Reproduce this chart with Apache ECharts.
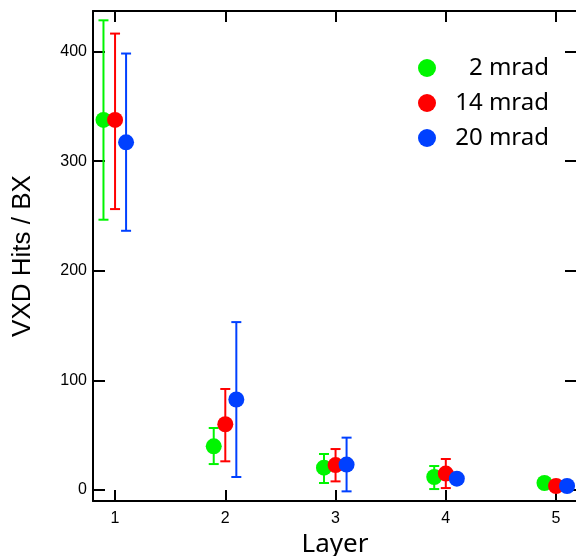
<!DOCTYPE html>
<html>
<head>
<meta charset="utf-8">
<script src="https://cdn.jsdelivr.net/npm/echarts@6/dist/echarts.min.js"></script>
<style>html,body{margin:0;padding:0;background:#fff}#c{width:576px;height:556px}</style>
</head>
<body>
<div id="c"></div>
<script>
const layers = [1, 2, 3, 4, 5];
const seriesNames = ['2 mrad', '14 mrad', '20 mrad'];
const hits2 = [337.6, 39.9, 20.4, 11.9, 6.4];
const lo2 = [246.6, 23.7, 6.4, 0.9, 4.0];
const hi2 = [428.5, 56.6, 32.9, 21.9, 9.0];
const hits14 = [337.6, 60.0, 22.8, 15.0, 3.7];
const lo14 = [256.3, 26.2, 7.9, 1.8, 1.5];
const hi14 = [416.4, 92.2, 37.4, 28.3, 6.0];
const hits20 = [317.2, 82.6, 23.2, 10.4, 3.7];
const lo20 = [236.5, 11.9, -1.2, 7.0, 1.5];
const hi20 = [398.2, 153.2, 47.8, 14.0, 6.0];
const yTicks = [0, 100, 200, 300, 400];

const colors = ['#00f500', '#ff0000', '#0040ff'];
const offsets = [-0.105, 0, 0.1];
const allHits = [hits2, hits14, hits20];
const allLo = [lo2, lo14, lo20];
const allHi = [hi2, hi14, hi20];

const chart = echarts.init(document.getElementById('c'));
const axisLine = {show: true, onZero: false, lineStyle: {color: '#000', width: 2}};
const labelFont = {fontFamily: 'Liberation Sans', fontSize: 16, color: '#000'};

function errRender(color) {
  return function (params, api) {
    const x = api.value(0);
    const p1 = api.coord([x, api.value(1)]);
    const p2 = api.coord([x, api.value(2)]);
    const s = {stroke: color, lineWidth: 2};
    return {type: 'group', children: [
      {type: 'line', shape: {x1: p1[0], y1: p1[1], x2: p2[0], y2: p2[1]}, style: s},
      {type: 'line', shape: {x1: p1[0] - 5, y1: p1[1], x2: p1[0] + 5, y2: p1[1]}, style: s},
      {type: 'line', shape: {x1: p2[0] - 5, y1: p2[1], x2: p2[0] + 5, y2: p2[1]}, style: s}
    ]};
  };
}

const series = [];
[0, 1, 2].forEach(i => {
  series.push({
    type: 'custom', name: seriesNames[i] + ' err', silent: true, z: 2,
    renderItem: errRender(colors[i]),
    data: layers.map((l, k) => [l + offsets[i], allLo[i][k], allHi[i][k]]),
    encode: {x: 0, y: [1, 2]}
  });
});
[1, 0, 2].forEach(i => {
  series.push({
    type: 'scatter', name: seriesNames[i], z: 3 + i,
    symbol: 'circle', symbolSize: 16,
    itemStyle: {color: colors[i], opacity: 1},
    data: layers.map((l, k) => [l + offsets[i], allHits[i][k]])
  });
});

chart.setOption({
  animation: false,
  grid: {left: 93, top: 11, right: -1, bottom: 55, containLabel: false, outerBoundsMode: 'none'},
  legend: {
    data: seriesNames, orient: 'vertical', left: 413, top: 51,
    icon: 'circle', itemWidth: 18, itemHeight: 18, itemGap: 11,
    formatter: n => '{t|' + n + '}',
    textStyle: {rich: {t: {width: 108, align: 'right', fontSize: 24, lineHeight: 22,
      fontFamily: 'Noto Sans', color: '#000'}}}
  },
  xAxis: [{
    type: 'value', min: 0.8, max: 5.19, position: 'bottom',
    name: 'Layer', nameLocation: 'middle', nameGap: 28,
    nameTextStyle: {fontFamily: 'Noto Sans', fontSize: 26, color: '#000'},
    axisLine: axisLine, splitLine: {show: false},
    axisTick: {inside: true, length: 11, lineStyle: {width: 2, color: '#000'}, customValues: layers},
    axisLabel: Object.assign({margin: 10, customValues: layers}, labelFont)
  }, {
    type: 'value', min: 0.8, max: 5.19, position: 'top',
    axisLine: axisLine, splitLine: {show: false},
    axisTick: {inside: true, length: 11, lineStyle: {width: 2, color: '#000'}, customValues: layers},
    axisLabel: {show: false}
  }],
  yAxis: [{
    type: 'value', min: -10, max: 437, position: 'left',
    name: 'VXD Hits / BX', nameLocation: 'middle', nameGap: 57, nameRotate: 90,
    nameTextStyle: {fontFamily: 'Liberation Sans', fontSize: 26, color: '#000'},
    axisLine: axisLine, splitLine: {show: false},
    axisTick: {inside: true, length: 12, lineStyle: {width: 2, color: '#000'}, customValues: yTicks},
    axisLabel: Object.assign({margin: 6, customValues: yTicks}, labelFont)
  }, {
    type: 'value', min: -10, max: 437, position: 'right',
    axisLine: axisLine, splitLine: {show: false},
    axisTick: {inside: true, length: 12, lineStyle: {width: 2, color: '#000'}, customValues: yTicks},
    axisLabel: {show: false}
  }],
  series: series
});
</script>
</body>
</html>
